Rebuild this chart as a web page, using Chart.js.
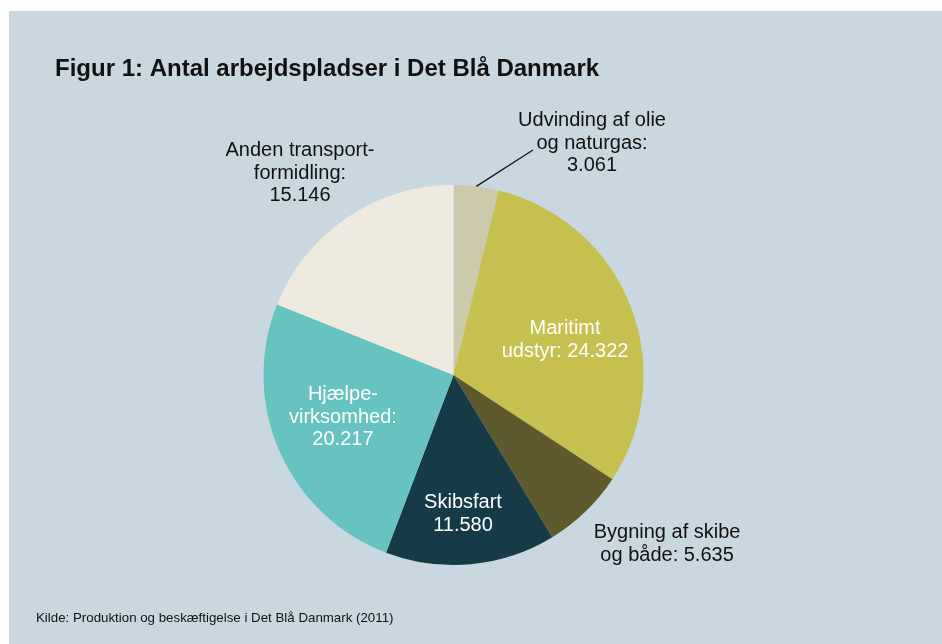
<!DOCTYPE html>
<html>
<head>
<meta charset="utf-8">
<script src="https://cdn.jsdelivr.net/npm/chart.js@4"></script>
<style>
  html, body { margin: 0; padding: 0; background: #ffffff; }
  #wrap { position: relative; width: 942px; height: 644px; }
</style>
</head>
<body>
<div id="wrap"><canvas id="blueChart" width="942" height="644"></canvas></div>
<script>
// Data (clockwise from top)
const sectors = ['Udvinding af olie og naturgas', 'Maritimt udstyr', 'Bygning af skibe og både',
                 'Skibsfart', 'Hjælpevirksomhed', 'Anden transportformidling'];
const jobs = [3061, 24322, 5635, 11580, 20217, 15146];
const labelLines = [
    ['Udvinding af olie', 'og naturgas:', '3.061'],
    ['Maritimt', 'udstyr: 24.322'],
    ['Bygning af skibe', 'og både: 5.635'],
    ['Skibsfart', '11.580'],
    ['Hjælpe-', 'virksomhed:', '20.217'],
    ['Anden transport-', 'formidling:', '15.146']
];
const sliceColors = ['#cdc9ad', '#c6c04e', '#5f5a2e', '#173a47', '#66c3bf', '#eeeadf'];
const labelColors = ['#111111', '#ffffff', '#111111', '#ffffff', '#ffffff', '#111111'];
// label offset from pie centre, in units of the radius
const labelOffsets = [[0.729, -1.221], [0.587, -0.184], [1.124, 0.889],
                      [0.05, 0.732], [-0.582, 0.221], [-0.808, -1.063]];

const titleText = 'Figur 1: Antal arbejdspladser i Det Blå Danmark';
const sourceText = 'Kilde: Produktion og beskæftigelse i Det Blå Danmark (2011)';
const FONT = '"Liberation Sans", Arial, Helvetica, sans-serif';

const backdrop = {
    id: 'backdrop',
    beforeDraw(chart) {
        const ctx = chart.ctx;
        ctx.save();
        ctx.fillStyle = '#c9d8e0';
        ctx.fillRect(9, 11, chart.width - 9, chart.height - 11);
        ctx.fillStyle = '#111111';
        ctx.textBaseline = 'alphabetic';
        ctx.textAlign = 'left';
        ctx.font = 'bold 24px ' + FONT;
        ctx.fillText(titleText, 55, 76);
        ctx.font = '13.3px ' + FONT;
        ctx.fillText(sourceText, 36, 622);
        ctx.restore();
    }
};

const sliceLabels = {
    id: 'sliceLabels',
    afterDatasetsDraw(chart) {
        const ctx = chart.ctx;
        const arcs = chart.getDatasetMeta(0).data;
        ctx.save();
        ctx.font = '20px ' + FONT;
        ctx.textAlign = 'center';
        ctx.textBaseline = 'middle';
        arcs.forEach((arc, i) => {
            const r = arc.outerRadius;
            const cx = arc.x + labelOffsets[i][0] * r;
            const cy = arc.y + labelOffsets[i][1] * r;
            const lines = labelLines[i];
            const lh = 22.8;
            ctx.fillStyle = labelColors[i];
            lines.forEach((t, k) => {
                ctx.fillText(t, cx, cy + (k - (lines.length - 1) / 2) * lh);
            });
        });
        // leader line for the small slice
        const a = arcs[0];
        const mid = (a.startAngle + a.endAngle) / 2;
        ctx.strokeStyle = '#111111';
        ctx.lineWidth = 1.2;
        ctx.beginPath();
        ctx.moveTo(a.x + Math.cos(mid) * a.outerRadius, a.y + Math.sin(mid) * a.outerRadius);
        ctx.lineTo(a.x + 0.418 * a.outerRadius, a.y - 1.184 * a.outerRadius);
        ctx.stroke();
        ctx.restore();
    }
};

new Chart(document.getElementById('blueChart'), {
    type: 'pie',
    data: {
        labels: sectors,
        datasets: [{
            data: jobs,
            backgroundColor: sliceColors,
            borderWidth: 0
        }]
    },
    options: {
        responsive: false,
        animation: false,
        layout: { padding: { left: 263, right: 298, top: 185, bottom: 79 } },
        plugins: {
            legend: { display: false },
            tooltip: { enabled: false }
        }
    },
    plugins: [backdrop, sliceLabels]
});
</script>
</body>
</html>
